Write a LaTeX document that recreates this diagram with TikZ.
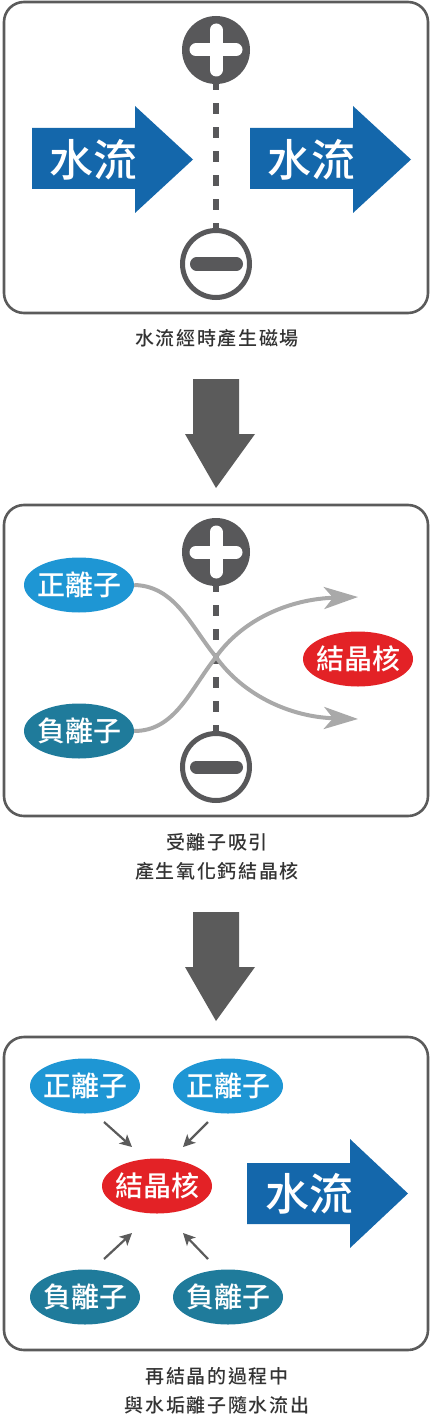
\documentclass[tikz,border=0pt]{standalone}
\usepackage{fontspec}
\setmainfont{Noto Sans CJK TC Medium}
\newfontfamily\capfont[LetterSpace=9]{Noto Sans CJK TC Medium}
\usetikzlibrary{shapes.geometric,arrows.meta}

\definecolor{boxgray}{HTML}{5B5B5B}
\definecolor{poledark}{HTML}{58585A}
\definecolor{flowblue}{HTML}{1467AB}
\definecolor{posblue}{HTML}{1E96D4}
\definecolor{negteal}{HTML}{1F7B9B}
\definecolor{corered}{HTML}{E32226}
\definecolor{pathgray}{HTML}{A9A9A9}
\definecolor{captext}{HTML}{333333}

\tikzset{
  panel/.style={draw=boxgray,line width=2.6,rounded corners=20},
  ion/.style={ellipse,minimum width=110,minimum height=55,inner xsep=-4,inner ysep=0,
    text=white,font=\fontsize{28}{28}\selectfont},
  posion/.style={ion,fill=posblue},
  negion/.style={ion,fill=negteal},
  core/.style={ion,fill=corered},
  pluspole/.style={circle,fill=poledark,minimum size=68,inner sep=0},
  minuspole/.style={circle,draw=poledark,fill=white,line width=5,minimum size=67,inner sep=0},
  dashline/.style={draw=poledark,line width=6,dash pattern=on 11 off 13,dash phase=5},
  flowtext/.style={text=white,font=\fontsize{44}{44}\selectfont},
  caption/.style={text=captext,align=center,font=\capfont\fontsize{19}{29}\selectfont},
  ionpath/.style={draw=pathgray,line width=4,-{Stealth[length=34,width=22,inset=9]}},
  inarrow/.style={draw=boxgray,line width=2.2,-{Stealth[length=12,width=12,inset=3]}}
}

\begin{document}
\begin{tikzpicture}[x=1pt,y=-1pt]
\useasboundingbox (0,0) rectangle (432,1415);

% panels
\draw[panel] (4,2) rectangle (428,313);
\draw[panel] (4,505) rectangle (428,816);
\draw[panel] (4,1037) rectangle (428,1350);

% poles with dashed field line
\foreach \yp/\ym/\n in {50/264/A,552/767/B}
{
    \node[pluspole] (plus\n) at (216,\yp) {};
    \draw[white,line width=13,line cap=round] (196,\yp) -- (236,\yp);
    \draw[white,line width=13,line cap=round] (216,\yp-20) -- (216,\yp+20);
    \node[minuspole] (minus\n) at (216,\ym) {};
    \draw[poledark,line width=13,line cap=round] (196.5,\ym) -- (236.5,\ym);
    \draw[dashline] (plus\n) -- (minus\n);
}

% water flow, panel 1
\fill[flowblue] (32,128) -- (135,128) -- (135,106) -- (193,159.5)
    -- (135,213) -- (135,189) -- (32,189) -- cycle;
\node[flowtext] (flowL) at (93,160) {水流};
\fill[flowblue] (250,128) -- (353,128) -- (353,106) -- (411,159.5)
    -- (353,213) -- (353,189) -- (250,189) -- cycle;
\node[flowtext] (flowR) at (311,160) {水流};
\node[caption] (capA) at (217,338) {水流經時產生磁場};

% down arrows
\foreach \y in {379,912}
{
    \fill[boxgray] (193,\y) -- (239,\y) -- (239,\y+55) -- (255,\y+55)
        -- (216,\y+109) -- (185,\y+55) -- (193,\y+55) -- cycle;
}

% ions crossing the field
\node[posion] (posB) at (79,585) {正離子};
\node[negion] (negB) at (79,731) {負離子};
\node[core] (coreB) at (358,659) {結晶核};
\coordinate (crossB) at (216,657);
\coordinate (outDown) at (358,719);
\coordinate (outUp) at (358,597);
\draw[ionpath] (posB.east) .. controls (175,586) and (190,625) .. (crossB)
    .. controls (243,695) and (290,717) .. (outDown);
\draw[ionpath] (negB.east) .. controls (175,731) and (190,690) .. (crossB)
    .. controls (243,619) and (290,599) .. (outUp);
\node[caption] (capB) at (217,857) {受離子吸引\\產生氧化鈣結晶核};

% recrystallisation
\node[posion] (posC1) at (85,1086) {正離子};
\node[posion] (posC2) at (228,1086) {正離子};
\node[core] (coreC) at (157,1186) {結晶核};
\node[negion] (negC1) at (85,1297) {負離子};
\node[negion] (negC2) at (228,1297) {負離子};
\foreach \sx/\sy/\ex/\ey/\k in {104/1122/132/1147/1,208/1122/183/1147/2,104/1259/132/1233/3,208/1259/183/1233/4}
{
    \coordinate (from\k) at (\sx,\sy);
    \coordinate (to\k) at (\ex,\ey);
    \draw[inarrow] (from\k) -- (to\k);
}
\fill[flowblue] (247,1163) -- (350,1163) -- (350,1139) -- (408,1193.5)
    -- (350,1248) -- (350,1224) -- (247,1224) -- cycle;
\node[flowtext] (flowC) at (309,1194) {水流};
\node[caption] (capC) at (217,1391) {再結晶的過程中\\與水垢離子隨水流出};

\end{tikzpicture}
\end{document}
